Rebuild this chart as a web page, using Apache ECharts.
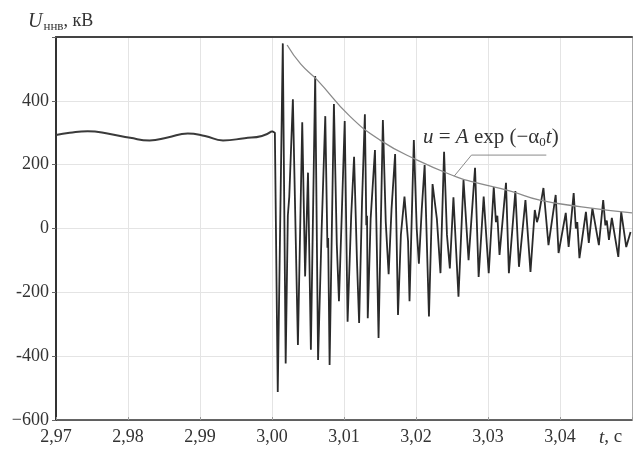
<!DOCTYPE html>
<html><head><meta charset="utf-8">
<script src="https://cdn.jsdelivr.net/npm/echarts@6/dist/echarts.min.js"></script>
<style>html,body{margin:0;padding:0;background:#fff}#c{width:635px;height:455px}</style>
</head><body><div id="c"></div>
<script>
// ---- data ----
const preTime = [2.9700,2.9719,2.9744,2.9775,2.9803,2.9830,2.9855,2.9883,2.9907,2.9932,2.9962,2.9986];
const preVolt = [293,300,305,296,284,276,285,298,290,276,283,290];

const postTime = [3.0000,3.0004,3.0008,3.0015,3.0019,3.0022,3.0024,3.0029,3.0036,3.0042,3.0046,3.0050,3.0054,3.0060,3.0064,3.0069,3.0074,3.0077,3.0078,3.0080,3.0086,3.0090,3.0093,3.0097,3.0101,3.0105,3.0110,3.0114,3.0118,3.0121,3.0125,3.0129,3.0131,3.0132,3.0133,3.0137,3.0143,3.0148,3.0154,3.0158,3.0162,3.0166,3.0171,3.0175,3.0179,3.0184,3.0189,3.0191,3.0197,3.0201,3.0204,3.0208,3.0212,3.0218,3.0223,3.0229,3.0234,3.0239,3.0243,3.0247,3.0252,3.0259,3.0266,3.0273,3.0282,3.0287,3.0294,3.0301,3.0308,3.0311,3.0313,3.0316,3.0325,3.0329,3.0338,3.0343,3.0352,3.0359,3.0365,3.0368,3.0370,3.0377,3.0384,3.0394,3.0398,3.0408,3.0412,3.0419,3.0422,3.0424,3.0427,3.0436,3.0440,3.0445,3.0454,3.0460,3.0463,3.0465,3.0468,3.0472,3.0481,3.0485,3.0492,3.0498];
const postVolt = [305,300,-512,580,-423,40,100,405,-365,333,-150,175,-380,478,-412,0,352,-60,-30,-428,390,-50,-228,50,337,-292,40,225,-100,-296,80,358,10,40,-281,30,246,-343,340,20,-143,60,233,-271,-20,100,-40,-228,277,0,-110,60,199,-276,139,30,-140,240,-20,-125,98,-214,152,-99,190,-152,100,-140,130,20,40,-83,143,-140,117,-120,89,-136,58,20,35,127,-52,105,-77,49,-58,111,0,20,-93,52,-45,64,-52,89,10,25,-36,33,-89,52,-58,-11];

const envTime = [3.0021,3.0040,3.0063,3.0108,3.0150,3.0201,3.0257,3.0279,3.0330,3.0372,3.0430,3.0500];
const envVolt = [575,515,465,352,277,215,161,146,118,89,68,49];

const leaderTime = [3.0253,3.0277,3.0381];
const leaderVolt = [164,230,230];

const xTickLabels = ['2,97','2,98','2,99','3,00','3,01','3,02','3,03','3,04'];
const yTickLabels = {'-600':'\u2212600','-400':'-400','-200':'-200','0':'0','200':'200','400':'400'};

// ---- build ----
const zip = (a,b)=>a.map((v,i)=>[v,b[i]]);
const serif = '"Liberation Serif","DejaVu Serif",serif';
const chart = echarts.init(document.getElementById('c'));
chart.setOption({
  animation:false,
  backgroundColor:'#fff',
  grid:{left:56,right:2,top:37,bottom:35},
  title:{
    text:'{u|U}{s|ннв}{n|, кВ}',
    left:23, top:5,
    textStyle:{fontWeight:'normal',rich:{
      u:{fontFamily:serif,fontStyle:'italic',fontWeight:'normal',fontSize:20,color:'#333'},
      s:{fontFamily:serif,fontWeight:'normal',fontSize:13,color:'#333',padding:[10,0,0,1]},
      n:{fontFamily:serif,fontWeight:'normal',fontSize:18,color:'#333'}
    }}
  },
  xAxis:[{
    type:'value',min:2.97,max:3.05,interval:0.01,
    axisLine:{onZero:false,lineStyle:{color:'#333',width:1.5}},
    axisTick:{show:true,inside:true,length:3,lineStyle:{color:'#999'}},
    splitLine:{show:true,lineStyle:{color:'#e4e4e4',width:1}},
    axisLabel:{margin:8,fontFamily:serif,fontSize:18,color:'#333',
      formatter:v=>{const k=Math.round((v-2.97)*100);return k<xTickLabels.length?xTickLabels[k]:'';}}
  },{
    type:'value',min:2.97,max:3.05,position:'top',
    axisLine:{onZero:false,lineStyle:{color:'#444',width:2}},axisTick:{show:false},axisLabel:{show:false},splitLine:{show:false}
  }],
  yAxis:[{
    type:'value',min:-600,max:600,interval:200,
    axisLine:{show:true,onZero:false,lineStyle:{color:'#333',width:2}},
    axisTick:{show:true,length:4,lineStyle:{color:'#666'}},
    splitLine:{show:true,lineStyle:{color:'#e4e4e4',width:1}},
    axisLabel:{margin:7,fontFamily:serif,fontSize:18,color:'#333',
      formatter:v=>yTickLabels[String(Math.round(v))]||''}
  },{
    type:'value',min:-600,max:600,position:'right',
    axisLine:{show:true,onZero:false,lineStyle:{color:'#aaa',width:1}},axisTick:{show:false},axisLabel:{show:false},splitLine:{show:false}
  }],
  series:[
    {type:'line',data:zip(preTime,preVolt).concat(zip(postTime,postVolt).slice(0,1)),smooth:true,showSymbol:false,
      lineStyle:{color:'#3a3a3a',width:2},z:3},
    {type:'line',data:zip(postTime,postVolt),showSymbol:false,
      lineStyle:{color:'#2a2a2a',width:1.8},z:4},
    {type:'line',data:zip(envTime,envVolt),smooth:true,showSymbol:false,
      lineStyle:{color:'#8a8a8a',width:1.3},z:5},
    {type:'line',data:zip(leaderTime,leaderVolt),showSymbol:false,
      lineStyle:{color:'#8a8a8a',width:1},z:5}
  ],
  graphic:[
    {type:'text',left:423,top:127,z:10,style:{
      text:'{i|u} = {i|A} exp (\u2212α{sub|0}{i|t})',
      font:'21px '+serif,fill:'#333',
      rich:{i:{fontFamily:serif,fontStyle:'italic',fontSize:21,fill:'#333'},
            sub:{fontFamily:serif,fontSize:13,fill:'#333',padding:[10,0,0,0]}}}},
    {type:'text',left:599,top:428,style:{
      text:'{i|t}, c',font:'19px '+serif,fill:'#333',
      rich:{i:{fontFamily:serif,fontStyle:'italic',fontSize:19,fill:'#333'}}}}
  ]
});
</script></body></html>
